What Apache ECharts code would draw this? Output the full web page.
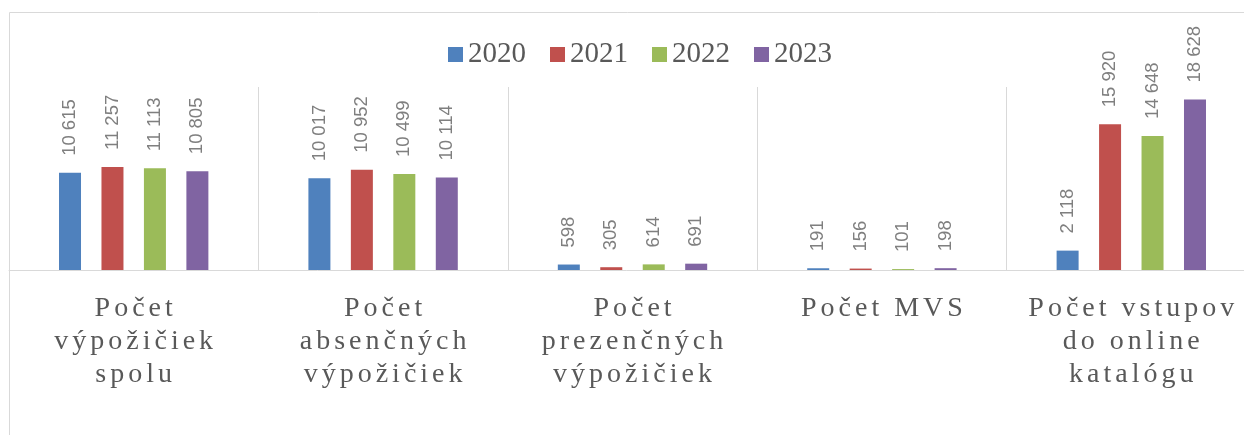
<!DOCTYPE html>
<html>
<head>
<meta charset="utf-8">
<script src="https://cdn.jsdelivr.net/npm/echarts@6/dist/echarts.min.js"></script>
<style>
  html, body { margin: 0; padding: 0; background: #fff; }
  #chart { width: 1244px; height: 435px; }
</style>
</head>
<body>
<div id="chart"></div>
<script>
const categories = [
  "Počet\nvýpožičiek\nspolu",
  "Počet\nabsenčných\nvýpožičiek",
  "Počet\nprezenčných\nvýpožičiek",
  "Počet MVS",
  "Počet vstupov\ndo online\nkatalógu"
];
const years = ["2020", "2021", "2022", "2023"];
const values2020 = [10615, 10017, 598, 191, 2118];
const values2021 = [11257, 10952, 305, 156, 15920];
const values2022 = [11113, 10499, 614, 101, 14648];
const values2023 = [10805, 10114, 691, 198, 18628];
const colors = ["#4F81BD", "#C0504D", "#9BBB59", "#8064A2"];

const seriesValues = [values2020, values2021, values2022, values2023];

// thousands separated by a space, like the source
const fmt = (v) => String(v).replace(/\B(?=(\d{3})+(?!\d))/g, " ");

// spaced-out letters for the category names
const spaced = (text) =>
  text
    .split("\n")
    .map((line) => line.split("").map((ch) => "{c|" + ch + "}").join(""))
    .join("\n");

const chart = echarts.init(document.getElementById("chart"));

const option = {
  animation: false,
  color: colors,
  graphic: [
    {
      type: "rect",
      shape: { x: 9.5, y: 12.5, width: 1400, height: 600 },
      style: { fill: "none", stroke: "#d9d9d9", lineWidth: 1 },
      silent: true,
      z: -1
    }
  ],
  legend: {
    data: years,
    left: 443,
    top: 35,
    itemWidth: 15,
    itemHeight: 15,
    itemGap: 24,
    icon: "rect",
    textStyle: {
      fontFamily: "Liberation Serif",
      fontSize: 29,
      color: "#595959"
    }
  },
  grid: {
    left: 9,
    width: 1247,
    top: 87,
    bottom: 165,
    containLabel: false,
    outerBoundsMode: "none"
  },
  xAxis: {
    type: "category",
    data: categories,
    axisLine: { lineStyle: { color: "#d9d9d9", width: 1 } },
    axisTick: { show: false },
    splitLine: { show: true, lineStyle: { color: "#d9d9d9", width: 1 } },
    axisLabel: {
      interval: 0,
      margin: 22,
      lineHeight: 33,
      formatter: spaced,
      rich: {
        c: {
          fontFamily: "Liberation Serif",
          fontSize: 28,
          color: "#595959",
          lineHeight: 33,
          padding: [0, 2, 0, 2]
        }
      }
    }
  },
  yAxis: {
    type: "value",
    min: 0,
    max: 20000,
    show: false,
    splitLine: { show: false }
  },
  series: years.map((y, i) => ({
    name: y,
    type: "bar",
    data: seriesValues[i],
    barWidth: 22,
    barGap: "93%",
    label: {
      show: true,
      position: "top",
      rotate: 90,
      align: "left",
      verticalAlign: "middle",
      distance: 17,
      fontFamily: "Liberation Sans",
      fontSize: 18.5,
      color: "#7f7f7f",
      formatter: (p) => fmt(p.value)
    }
  }))
};

chart.setOption(option);
</script>
</body>
</html>
